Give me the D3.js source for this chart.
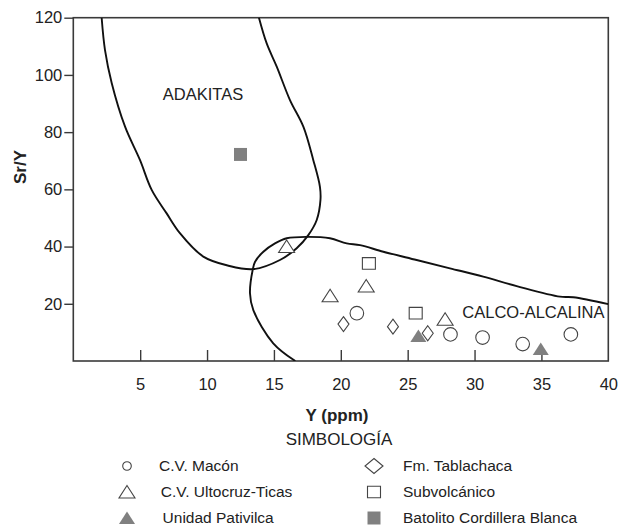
<!DOCTYPE html>
<html>
<head>
<meta charset="utf-8">
<script src="https://cdn.jsdelivr.net/npm/d3@7"></script>
<style>
  html, body { margin: 0; padding: 0; background: #fff; }
  svg { display: block; }
  text { font-family: "Liberation Sans", Arial, Helvetica, sans-serif; fill: #222; }
</style>
</head>
<body>
<svg id="chart" width="625" height="527"></svg>
<script>
// Sr/Y vs Y discrimination diagram (adakites vs calc-alkaline)
const xTickValues = [5, 10, 15, 20, 25, 30, 35, 40];
const yTickValues = [20, 40, 60, 80, 100, 120];

// Field boundaries [Y, Sr/Y]
const adakiteField = [
  [2.12, 120], [2.37, 108.7], [2.87, 97.2], [3.87, 81.9], [4.99, 70.2],
  [5.86, 59.8], [6.98, 51.6], [7.97, 44.7], [9.72, 36.5], [11.6, 33.3],
  [13.46, 32.1], [15.45, 35.3], [16.7, 39.4], [17.57, 44.0], [18.2, 49.3],
  [18.48, 56.3], [18.44, 60.9], [17.94, 70.3], [17.2, 81.9], [16.2, 91.2],
  [15.21, 102.9], [14.46, 111.0], [13.88, 120]
];
const calcAlkalineField = [
  [16.6, 0], [14.95, 6.2], [13.46, 17.8], [13.21, 23.7], [13.41, 31.8],
  [13.59, 34.7], [14.21, 38.2], [15.08, 41.1], [15.96, 42.9], [17.45, 43.4],
  [19.19, 42.9], [20.44, 41.1], [21.44, 40.5], [23.18, 38.2], [25.67, 35.3],
  [28.16, 32.4], [30.65, 29.5], [33.15, 26.2], [36.39, 22.5], [37.38, 22.3],
  [40, 19.9]
];

// Samples [Y (ppm), Sr/Y]
const cvMacon = [[21.2, 16.7], [28.2, 9.3], [30.6, 8.2], [33.6, 5.9], [37.2, 9.3]];
const cvUltocruz = [[15.95, 40.0], [19.2, 22.8], [21.9, 26.2], [27.8, 14.6]];
const unidadPativilca = [[25.8, 8.7], [34.95, 4.2]];
const fmTablachaca = [[20.2, 12.9], [23.9, 12.0], [26.5, 9.7]];
const subvolcanico = [[22.1, 34.1], [25.6, 16.7]];
const batolito = [[12.5, 72.2]];

const fieldLabels = [
  { text: "ADAKITAS", at: [9.7, 91.2] },
  { text: "CALCO-ALCALINA", at: [34.4, 15.0] }
];

const legendItems = [
  { label: "C.V. Macón", shape: "circleSmall", col: 0, row: 0 },
  { label: "C.V. Ultocruz-Ticas", shape: "triangle", col: 0, row: 1 },
  { label: "Unidad Pativilca", shape: "triangleFilled", col: 0, row: 2 },
  { label: "Fm. Tablachaca", shape: "diamondLegend", col: 1, row: 0 },
  { label: "Subvolcánico", shape: "square", col: 1, row: 1 },
  { label: "Batolito Cordillera Blanca", shape: "squareFilled", col: 1, row: 2 }
];

const svg = d3.select("#chart");
const margin = { left: 73.3, right: 625 - 608.3, top: 17.7, bottom: 527 - 361 };
const W = 625 - margin.left - margin.right;
const H = 527 - margin.top - margin.bottom;

const x = d3.scaleLinear().domain([0, 40]).range([margin.left, margin.left + W]);
const y = d3.scaleLinear().domain([0, 120]).range([margin.top + H, margin.top]);

const axisColor = "#3a3a3a";
const grey = "#808080";

// marker drawing
function markerPath(shape) {
  switch (shape) {
    case "circle": return d3.symbol(d3.symbolCircle, Math.PI * 6.8 * 6.8)();
    case "circleSmall": return d3.symbol(d3.symbolCircle, Math.PI * 4.3 * 4.3)();
    case "triangle":
    case "triangleFilled": return "M0,-6.5L8,6L-8,6Z";
    case "diamond": return "M0,-7.5L5.5,0L0,7.5L-5.5,0Z";
    case "diamondLegend": return "M0,-7.5L9,0L0,7.5L-9,0Z";
    case "square": return "M-6.5,-5.8H6.5V5.8H-6.5Z";
    case "squareFilled": return "M-6.5,-6.5H6.5V6.5H-6.5Z";
  }
}
function markerStyle(sel, shape) {
  const filled = shape.endsWith("Filled");
  sel.attr("fill", filled ? grey : "#fff")
     .attr("stroke", filled ? "none" : "#444")
     .attr("stroke-width", 1.1);
}

// axes
const gx = svg.append("g").attr("transform", `translate(0,${margin.top + H})`)
  .call(d3.axisBottom(x).tickValues(xTickValues).tickSize(-11).tickPadding(17).tickFormat(d3.format("d")));
gx.select(".domain").remove();
gx.selectAll(".tick line").attr("stroke", axisColor).attr("stroke-width", 1.4)
  .filter(d => d === 40).remove();
gx.selectAll(".tick text").attr("font-size", 16.5).attr("fill", "#222")
  .attr("font-family", '"Liberation Sans", Arial, sans-serif');

const gy = svg.append("g").attr("transform", `translate(${margin.left},0)`)
  .call(d3.axisLeft(y).tickValues(yTickValues).tickSize(9).tickPadding(2).tickFormat(d3.format("d")));
gy.select(".domain").remove();
gy.selectAll(".tick line").attr("stroke", axisColor).attr("stroke-width", 1.4);
gy.selectAll(".tick text").attr("font-size", 16.5).attr("fill", "#222")
  .attr("font-family", '"Liberation Sans", Arial, sans-serif');

// frame
svg.append("rect")
  .attr("x", x(0)).attr("y", y(120))
  .attr("width", x(40) - x(0)).attr("height", y(0) - y(120))
  .attr("fill", "none").attr("stroke", axisColor).attr("stroke-width", 1.6);

// field boundaries
const line = d3.line().x(d => x(d[0])).y(d => y(d[1])).curve(d3.curveCatmullRom.alpha(0.5));
svg.append("clipPath").attr("id", "plotClip")
  .append("rect").attr("x", x(0)).attr("y", y(120)).attr("width", x(40) - x(0)).attr("height", y(0) - y(120));
[adakiteField, calcAlkalineField].forEach(pts => {
  svg.append("path").datum(pts)
    .attr("d", line)
    .attr("clip-path", "url(#plotClip)")
    .attr("fill", "none").attr("stroke", "#111").attr("stroke-width", 1.9)
    .attr("stroke-linejoin", "round");
});

// field labels
fieldLabels.forEach(l => {
  svg.append("text").attr("x", x(l.at[0])).attr("y", y(l.at[1]))
    .attr("text-anchor", "middle").attr("font-size", 16.5).text(l.text);
});

// samples
const series = [
  { data: cvMacon, shape: "circle" },
  { data: cvUltocruz, shape: "triangle" },
  { data: fmTablachaca, shape: "diamond" },
  { data: subvolcanico, shape: "square" },
  { data: unidadPativilca, shape: "triangleFilled" },
  { data: batolito, shape: "squareFilled" }
];
series.forEach(s => {
  svg.append("g").selectAll("path").data(s.data).join("path")
    .attr("transform", d => `translate(${x(d[0])},${y(d[1])})`)
    .attr("d", markerPath(s.shape))
    .call(markerStyle, s.shape);
});

// axis titles
svg.append("text").attr("x", 337).attr("y", 421)
  .attr("text-anchor", "middle").attr("font-size", 17).attr("font-weight", "bold").text("Y (ppm)");
svg.append("text").attr("transform", "translate(26,167) rotate(-90)")
  .attr("text-anchor", "middle").attr("font-size", 17).attr("font-weight", "bold").text("Sr/Y");

// legend
svg.append("text").attr("x", 339).attr("y", 445)
  .attr("text-anchor", "middle").attr("font-size", 17).text("SIMBOLOGÍA");

const legendCols = [
  { sx: 127, tx: 159 },
  { sx: 374, tx: 403 }
];
const legendRows = [466, 492, 518];
const lg = svg.append("g");
legendItems.forEach(it => {
  const c = legendCols[it.col];
  const ry = legendRows[it.row];
  lg.append("path").attr("transform", `translate(${c.sx},${ry})`)
    .attr("d", markerPath(it.shape)).call(markerStyle, it.shape);
  lg.append("text").attr("x", c.tx + (it.col === 0 ? it.row * 1.8 : 0)).attr("y", ry + 5)
    .attr("font-size", 15.5).text(it.label);
});
</script>
</body>
</html>
